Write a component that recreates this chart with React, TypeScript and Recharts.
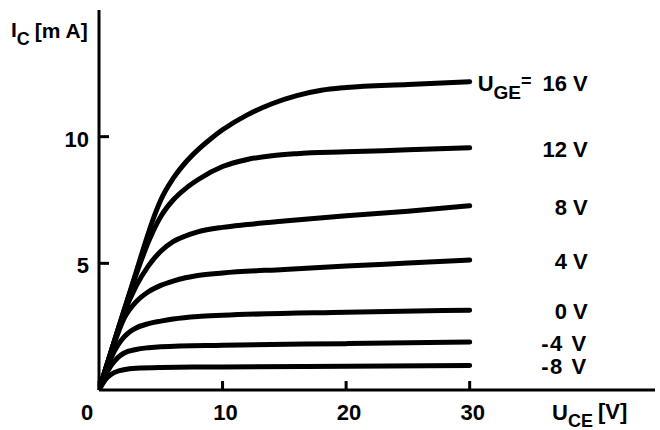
import { LineChart, Line, XAxis, YAxis } from 'recharts'

const FONT = "'Liberation Sans', Arial, sans-serif"

// output characteristics, [U_CE in V, I_C in mA]
const c16: [number, number][] = [[0, 0], [1, 1.55], [2, 3.1], [3, 4.65], [4, 6.2], [4.5, 6.9], [5, 7.5], [6, 8.35], [7, 8.98], [8, 9.48], [9, 9.9], [10, 10.27], [12, 10.86], [14, 11.3], [16, 11.62], [18, 11.83], [20, 11.94], [25, 12.06], [30, 12.17]]
const c12: [number, number][] = [[0, 0], [1, 1.55], [2, 3.1], [3, 4.55], [4, 5.85], [5, 6.85], [6, 7.5], [7, 7.95], [8, 8.3], [10, 8.82], [12, 9.1], [14, 9.25], [16, 9.33], [20, 9.4], [25, 9.48], [30, 9.56]]
const c8: [number, number][] = [[0, 0], [1, 1.55], [2, 3.0], [3, 4.1], [4, 4.9], [5, 5.48], [6, 5.86], [7, 6.08], [8, 6.24], [10, 6.42], [12, 6.53], [15, 6.67], [20, 6.88], [25, 7.06], [30, 7.27]]
const c4: [number, number][] = [[0, 0], [1, 1.5], [2, 2.8], [3, 3.48], [4, 3.88], [5, 4.13], [6, 4.3], [7, 4.43], [8, 4.52], [10, 4.62], [15, 4.76], [20, 4.89], [25, 5.01], [30, 5.13]]
const c0: [number, number][] = [[0, 0], [1, 1.3], [1.5, 1.75], [2, 2.08], [2.5, 2.3], [3, 2.45], [4, 2.62], [5, 2.72], [6, 2.8], [8, 2.9], [10, 2.95], [20, 3.07], [30, 3.15]]
const cm4: [number, number][] = [[0, 0], [0.5, 0.55], [1, 0.98], [1.5, 1.27], [2, 1.45], [3, 1.6], [4, 1.67], [5, 1.71], [10, 1.77], [20, 1.83], [30, 1.89]]
const cm8: [number, number][] = [[0, 0], [0.5, 0.4], [1, 0.62], [1.5, 0.74], [2, 0.8], [3, 0.86], [5, 0.89], [10, 0.91], [20, 0.94], [30, 0.97]]

const curves = [c16, c12, c8, c4, c0, cm4, cm8]
const curveLabels = ['16 V', '12 V', '8 V', '4 V', '0 V', '-4 V', '-8 V']
const xTicks = [0, 10, 20, 30]
const yTicks = [5, 10]

const XTick = ({ x, y, payload }: any) => (
  <g>
    <line x1={x} y1={y} x2={x} y2={y - 9} stroke="#000" strokeWidth={3} />
    <text x={payload.value === 0 ? x - 12 : x + 3} y={y + 30} textAnchor="middle" fontFamily={FONT} fontWeight="bold" fontSize={22} fill="#000">{payload.value}</text>
  </g>
)

const YTick = ({ x, y, payload }: any) => (
  <g>
    <line x1={x} y1={y} x2={x + 10} y2={y} stroke="#000" strokeWidth={3} />
    <text x={x - 10} y={y + 10} textAnchor="end" fontFamily={FONT} fontWeight="bold" fontSize={22} fill="#000">{payload.value}</text>
  </g>
)

const endLabel = (idx: number) => (p: any) => {
  if (p.index !== curves[idx].length - 1) return <g key={p.index} />
  const txt = curveLabels[idx]
  return (
    <g key={p.index}>
      {idx === 0 && (
        <text x={p.x + 8} y={p.y + 9} fontFamily={FONT} fontWeight="bold" fontSize={22} fill="#000">
          U<tspan fontSize={19} dy={8}>GE</tspan><tspan dy={-12} fontSize={18}>=</tspan>
        </text>
      )}
      <text x={p.x + 118} y={p.y + 9} textAnchor="end" fontFamily={FONT} fontWeight="bold" fontSize={22} fill="#000"
        letterSpacing={idx >= 5 ? 1.5 : 0}>{txt}</text>
    </g>
  )
}

export default function App() {
  return (
    <div style={{ position: 'absolute', left: 0, top: 0, width: 660, height: 430, background: '#fff' }}>
      <LineChart width={660} height={430} margin={{ top: 10, right: 5, bottom: 0, left: 0 }}>
        <XAxis type="number" dataKey="v" domain={[0, 45]} ticks={xTicks} height={40} tickSize={0} tickMargin={0} tickLine={false}
          axisLine={{ stroke: '#000', strokeWidth: 3 }} tick={<XTick />} interval={0} allowDataOverflow />
        <YAxis type="number" dataKey="i" domain={[0, 15]} ticks={yTicks} width={99} tickSize={0} tickMargin={0} tickLine={false}
          axisLine={{ stroke: '#000', strokeWidth: 3 }} tick={<YTick />} interval={0} allowDataOverflow />
        {curves.map((c, k) => (
          <Line key={k} data={c.map(([v, i]) => ({ v, i }))} dataKey="i" type="monotone" stroke="#000" strokeWidth={5}
            strokeLinecap="round" dot={false} activeDot={false} isAnimationActive={false} label={endLabel(k)} />
        ))}
      </LineChart>
      <svg width={660} height={430} style={{ position: 'absolute', left: 0, top: 0, pointerEvents: 'none' }}>
        <text x={11} y={37} fontFamily={FONT} fontWeight="bold" fontSize={21} fill="#000">
          I<tspan fontSize={18} dy={8}>C</tspan><tspan dy={-7} dx={5}>[m A]</tspan>
        </text>
        <text x={552} y={420} fontFamily={FONT} fontWeight="bold" fontSize={22} fill="#000">
          U<tspan fontSize={18} dy={7}>CE</tspan><tspan dy={-8} dx={5}>[V]</tspan>
        </text>
      </svg>
    </div>
  )
}
